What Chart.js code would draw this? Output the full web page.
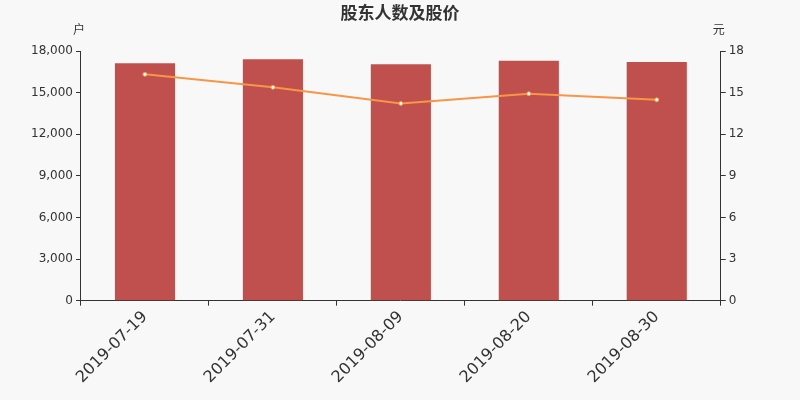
<!DOCTYPE html>
<html>
<head>
<meta charset="utf-8">
<script src="https://cdn.jsdelivr.net/npm/chart.js@4/dist/chart.umd.min.js"></script>
<style>
  html, body { margin: 0; padding: 0; background: #f8f8f8; }
  #wrap { width: 800px; height: 400px; }
</style>
</head>
<body>
<div id="wrap"><canvas id="chart" width="800" height="400"></canvas></div>
<script>
// data
const dates = ['2019-07-19', '2019-07-31', '2019-08-09', '2019-08-20', '2019-08-30'];
const holders = [17110, 17400, 17040, 17300, 17200];
const prices = [16.32, 15.38, 14.22, 14.92, 14.48];
const leftTicks = [0, 3000, 6000, 9000, 12000, 15000, 18000];
const rightTicks = [0, 3, 6, 9, 12, 15, 18];

const axisColor = '#333';
const fontFamily = "'DejaVu Sans', 'Noto Sans CJK SC', sans-serif";

// title centred on the whole canvas, plus small unit labels over each y axis
const headerText = {
    id: 'headerText',
    afterDraw(chart) {
        const ctx = chart.ctx;
        const area = chart.chartArea;
        ctx.save();
        ctx.fillStyle = axisColor;
        ctx.textAlign = 'center';
        ctx.textBaseline = 'middle';
        ctx.font = "bold 17px 'Noto Sans CJK SC', sans-serif";
        ctx.fillText('股东人数及股价', chart.width / 2, 13);
        ctx.font = "12px 'Noto Sans CJK SC', sans-serif";
        ctx.fillText('户', area.left - 2, area.top - 22);
        ctx.fillText('元', area.right - 2, area.top - 22);
        ctx.restore();
    }
};

new Chart(document.getElementById('chart'), {
    type: 'bar',
    data: {
        labels: dates,
        datasets: [{
            type: 'line',
            label: '股价',
            data: prices,
            yAxisID: 'y1',
            borderColor: '#f79646',
            borderWidth: 2,
            pointRadius: 2,
            pointBackgroundColor: '#ffffff',
            pointBorderColor: '#f79646',
            pointBorderWidth: 1,
            tension: 0,
            order: 0
        }, {
            label: '股东人数',
            data: holders,
            yAxisID: 'y',
            backgroundColor: '#c0504d',
            barPercentage: 0.47,
            categoryPercentage: 1,
            order: 1
        }]
    },
    options: {
        responsive: false,
        animation: false,
        layout: { padding: { top: 51, left: 28, right: 53, bottom: 11 } },
        plugins: {
            legend: { display: false },
            tooltip: { enabled: false },
            title: { display: false }
        },
        scales: {
            x: {
                grid: { display: true, drawOnChartArea: false, offset: true, color: axisColor, tickLength: 5 },
                border: { color: axisColor },
                ticks: {
                    color: axisColor,
                    font: { family: fontFamily, size: 16 },
                    maxRotation: 45,
                    minRotation: 45,
                    padding: 2
                }
            },
            y: {
                position: 'left',
                min: 0,
                max: 18000,
                afterBuildTicks(axis) { axis.ticks = leftTicks.map(v => ({ value: v })); },
                grid: { drawOnChartArea: false, color: axisColor, tickLength: 5 },
                border: { color: axisColor },
                ticks: {
                    color: axisColor,
                    font: { family: fontFamily, size: 12 },
                    padding: 3,
                    callback: v => v.toLocaleString('en-US')
                }
            },
            y1: {
                position: 'right',
                min: 0,
                max: 18,
                afterBuildTicks(axis) { axis.ticks = rightTicks.map(v => ({ value: v })); },
                grid: { drawOnChartArea: false, color: axisColor, tickLength: 5 },
                border: { color: axisColor },
                ticks: {
                    color: axisColor,
                    font: { family: fontFamily, size: 12 },
                    padding: 3
                }
            }
        }
    },
    plugins: [headerText]
});
</script>
</body>
</html>
